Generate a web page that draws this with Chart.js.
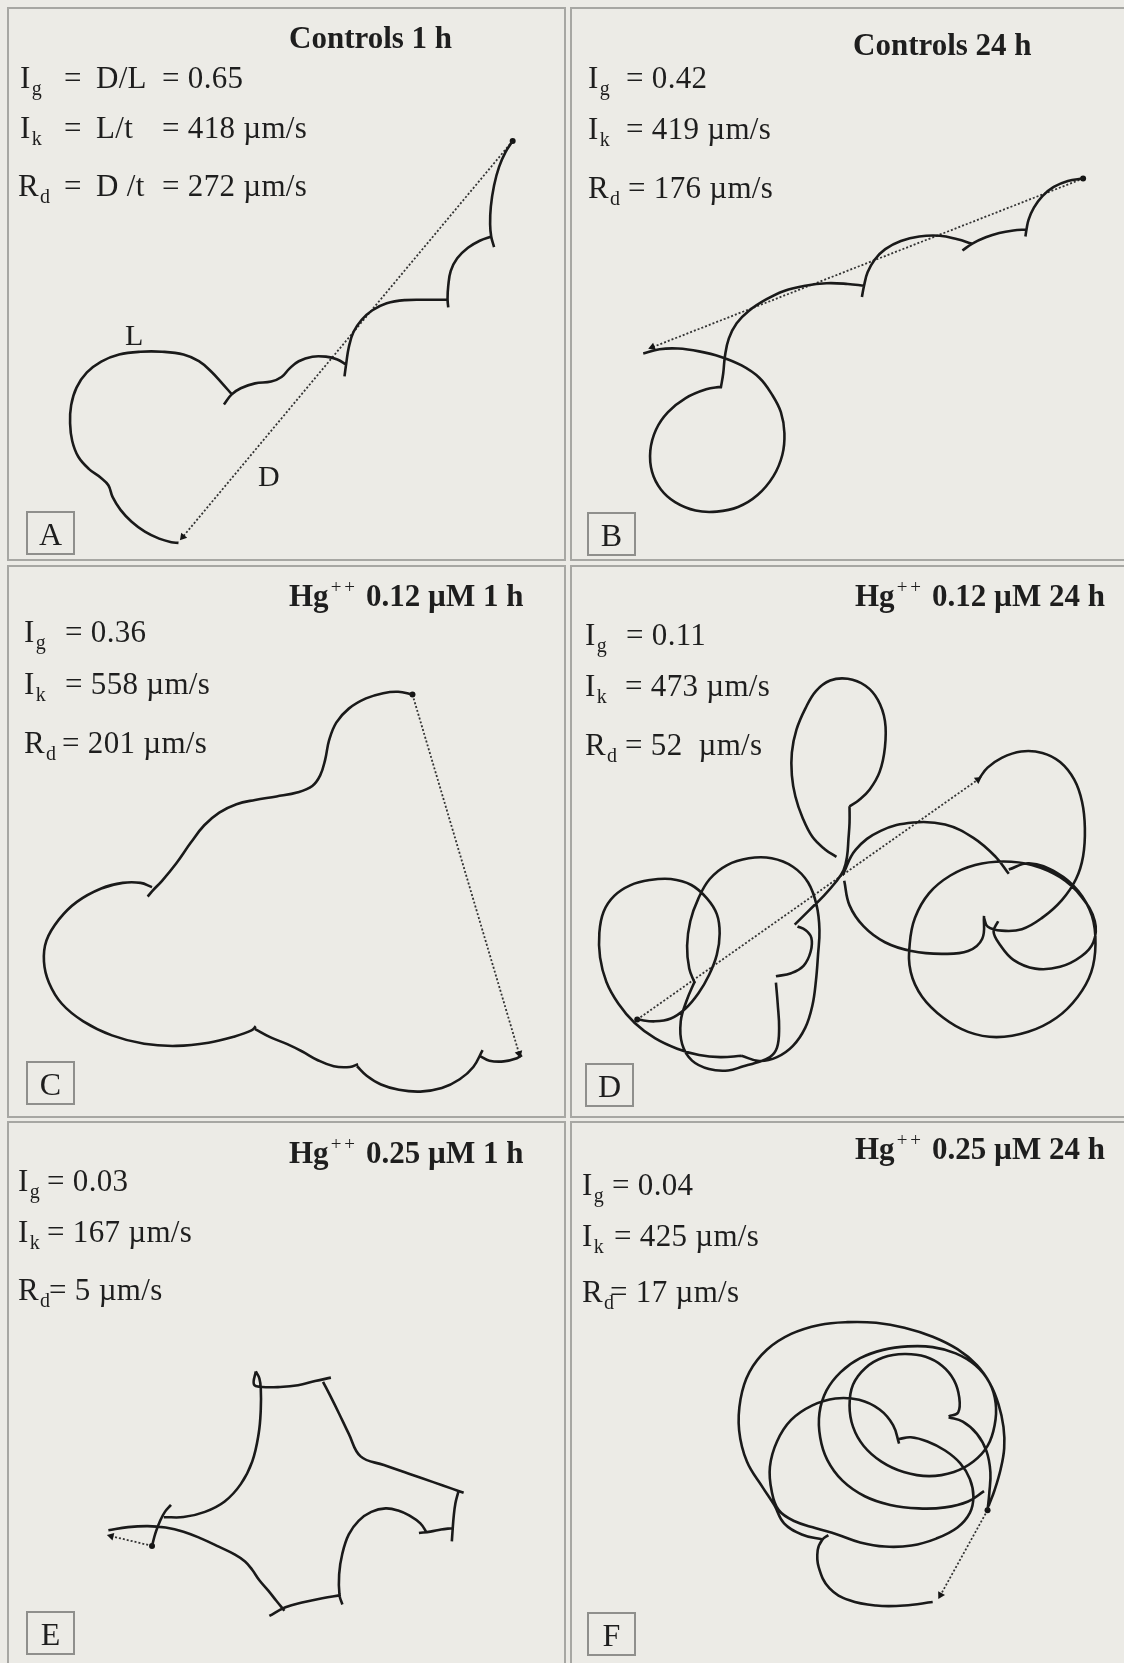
<!DOCTYPE html>
<html>
<head>
<meta charset="utf-8">
<script src="https://cdn.jsdelivr.net/npm/chart.js@4.4.1/dist/chart.umd.min.js"></script>
<style>
  body { margin: 0; width: 1124px; height: 1663px; overflow: hidden; position: relative;
         background: #ecebe6; font-family: "Liberation Serif", "Times New Roman", serif; color: #1e1e1e; }
  .panel { position: absolute; box-sizing: border-box; border: 2px solid #a7a7a3; }
  .plot { position: absolute; }
  .txt { position: absolute; white-space: nowrap; line-height: 1; }
  .stat { letter-spacing: 0.3px; }
  .title { font-weight: bold; }
  .sb { font-size: 20px; position: relative; top: 7px; margin-left: 1px; }
  .sp { font-size: 19px; font-weight: normal; position: relative; top: -13px; margin: 0 8px 0 2px; letter-spacing: 3px; }
  .tag { position: absolute; box-sizing: border-box; width: 49px; height: 44px; border: 2px solid #8f8f8c;
         font-size: 32px; text-align: center; line-height: 42px; }
</style>
</head>
<body>
<script>
// ---- data -------------------------------------------------------------
const panelIds = ['A', 'B', 'C', 'D', 'E', 'F']
const titles = ['Controls 1 h', 'Controls 24 h',
  'Hg<span class="sp">++</span>0.12 µM 1 h', 'Hg<span class="sp">++</span>0.12 µM 24 h',
  'Hg<span class="sp">++</span>0.25 µM 1 h', 'Hg<span class="sp">++</span>0.25 µM 24 h']
const gravIndex = [0.65, 0.42, 0.36, 0.11, 0.03, 0.04]   // I_g = D/L
const swimSpeed = [418, 419, 558, 473, 167, 425]         // I_k = L/t, µm/s
const netSpeed = [272, 176, 201, 52, 5, 17]              // R_d = D/t, µm/s

// tracks: list of smooth strokes, a new stroke starts at every cusp (tracker units)
const trackA = [
  [[1420,388],[1400,420],[1382,462],[1368,515],[1359,575],[1357,625],[1360,660],[1368,690]],
  [[1360,660],[1328,672],[1295,692],[1265,722],[1247,758],[1240,800],[1238,838],[1240,862]],
  [[1238,840],[1180,840],[1120,841],[1068,850],[1028,870],[998,897],[975,932],[962,975],[955,1020],[950,1058]],
  [[955,1025],[930,1010],[898,1002],[860,1002],[822,1015],[796,1036],[774,1060],[745,1073],[700,1078],[660,1092],[634,1110],[613,1138]],
  [[634,1108],[608,1078],[578,1045],[543,1015],[500,996],[440,988],[380,988],[320,996],[270,1016],[230,1047],[201,1090],[186,1140],[183,1192],[189,1242],[206,1287],[236,1322],[268,1346],[290,1368],[302,1402],[324,1438],[355,1472],[392,1500],[432,1520],[466,1530],[486,1532]]
]
const trackB = [
  [[1465,495],[1422,502],[1382,519],[1350,545],[1326,578],[1311,612],[1305,640],[1302,660]],
  [[1305,640],[1268,643],[1228,650],[1190,662],[1152,680],[1124,700]],
  [[1150,680],[1110,668],[1060,658],[1002,660],[950,673],[906,696],[876,726],[856,762],[846,800],[840,832]],
  [[847,800],[800,795],[740,793],[680,800],[620,815],[568,840],[520,872],[486,907],[464,950],[453,1000],[448,1050],[441,1092]],
  [[441,1088],[400,1095],[342,1120],[292,1160],[258,1210],[242,1270],[247,1330],[272,1380],[312,1416],[370,1440],[430,1443],[490,1430],[545,1396],[590,1342],[615,1282],[621,1220],[611,1160],[586,1110],[550,1062],[500,1027],[440,1002],[380,987],[320,979],[268,981],[222,993]]
]
const trackC = [
  [[1140,370],[1100,362],[1058,366],[1010,381],[962,410],[927,450],[907,500],[896,555],[882,600],[860,630],[820,648],[760,660],[700,670],[648,682],[600,706],[558,742],[520,792],[480,850],[440,900],[412,930],[400,945]],
  [[412,918],[380,906],[330,906],[270,922],[202,960],[152,1010],[117,1070],[110,1130],[124,1190],[160,1250],[220,1300],[300,1340],[390,1364],[480,1370],[570,1361],[640,1344],[690,1326],[702,1314]],
  [[700,1322],[742,1345],[790,1365],[832,1386],[874,1410],[920,1428],[965,1430],[988,1422]],
  [[985,1428],[1012,1455],[1052,1480],[1102,1495],[1162,1500],[1222,1490],[1272,1465],[1310,1430],[1336,1382]],
  [[1330,1400],[1355,1412],[1395,1414],[1432,1405],[1446,1396]]
]
const trackD = [
  [[205,1295],[255,1300],[300,1292],[340,1265],[378,1220],[408,1168],[430,1110],[438,1050],[430,995],[402,950],[358,912],[300,895],[240,898],[185,913],[140,943],[110,988],[98,1048],[100,1118],[118,1188],[152,1250],[198,1305],[255,1348],[318,1378],[380,1396],[440,1402],[500,1398]],
  [[500,1398],[550,1413],[600,1402],[645,1370],[680,1318],[700,1255],[710,1185],[716,1110],[720,1040],[712,970],[688,905],[645,860],[585,836],[520,836],[458,856],[410,895],[378,950],[355,1015],[346,1085],[352,1150],[368,1192]],
  [[368,1185],[345,1240],[328,1300],[332,1365],[360,1412],[408,1436],[462,1440],[505,1428],[540,1418],[580,1402],[600,1375],[606,1320],[602,1250],[597,1190]],
  [[597,1172],[640,1163],[675,1142],[695,1102],[697,1062],[680,1040],[658,1030]],
  [[650,1025],[690,985],[730,945],[765,905],[788,870],[798,830],[802,780],[805,735],[805,688]],
  [[805,688],[832,670],[862,640],[890,590],[905,520],[905,445],[885,385],[850,345],[800,325],[750,330],[710,360],[680,410],[655,470],[642,535],[642,600],[652,660],[672,720],[700,775],[735,810],[768,832]],
  [[785,885],[822,812],[893,758],[985,734],[1075,740],[1155,778],[1218,832],[1255,880]],
  [[1255,868],[1312,850],[1392,878],[1452,930],[1490,1000],[1500,1080],[1488,1160],[1450,1230],[1390,1290],[1310,1330],[1220,1345],[1140,1330],[1070,1290],[1010,1230],[978,1160],[975,1080],[990,1005],[1030,935],[1090,885],[1160,855],[1240,845],[1320,855],[1400,890],[1460,945],[1498,1015],[1494,1075],[1460,1115],[1400,1145],[1330,1150],[1268,1125],[1230,1082],[1212,1045],[1225,1015]],
  [[790,900],[805,970],[845,1030],[905,1075],[980,1100],[1065,1108],[1140,1100],[1180,1065],[1185,1000]],
  [[1185,1005],[1195,1030],[1235,1042],[1292,1038],[1350,1005],[1405,955],[1445,895],[1465,830],[1470,750],[1462,675],[1440,612],[1400,562],[1350,536],[1290,532],[1235,550],[1195,578],[1172,608]]
]
const trackE = [
  [[412,1243],[422,1205],[435,1170],[448,1145],[465,1125]],
  [[445,1160],[500,1160],[560,1145],[615,1115],[660,1065],[692,1000],[710,920],[716,850],[716,790],[712,760],[702,740]],
  [[702,740],[697,778],[720,785],[770,785],[820,780],[868,768],[912,758]],
  [[890,770],[910,810],[935,862],[962,920],[995,985],[1060,1010],[1130,1035],[1200,1060],[1250,1078],[1283,1090]],
  [[1268,1088],[1260,1120],[1255,1160],[1252,1200],[1250,1230]],
  [[1250,1192],[1220,1196],[1190,1202],[1158,1206]],
  [[1180,1205],[1162,1178],[1132,1156],[1100,1141],[1065,1135],[1025,1145],[990,1170],[962,1210],[944,1265],[935,1325],[936,1385],[944,1412]],
  [[940,1385],[888,1394],[838,1405],[785,1420],[740,1445]],
  [[782,1430],[760,1402],[737,1372],[712,1342],[692,1312],[672,1288],[640,1266],[600,1246],[550,1222],[500,1202],[450,1190],[400,1186],[345,1189],[290,1198]]
]
const trackF = [
  [[1040,1405],[960,1415],[880,1415],[805,1400],[748,1365],[718,1305],[715,1255],[728,1225],[745,1212]],
  [[730,1225],[670,1210],[620,1178],[592,1125],[560,1075],[515,1000],[493,910],[497,820],[522,742],[572,677],[640,632],[720,606],[800,598],[880,600],[960,614],[1040,640],[1110,676],[1165,722],[1202,775],[1226,835],[1240,900],[1242,962],[1232,1022],[1215,1082],[1198,1128]],
  [[945,948],[928,895],[890,850],[832,822],[765,818],[700,838],[640,880],[600,942],[580,1015],[585,1085],[605,1140],[650,1172],[710,1192],[770,1210],[835,1233],[905,1245],[980,1242],[1050,1222],[1110,1190],[1145,1148],[1155,1100],[1145,1050],[1118,1005],[1075,968],[1025,942],[978,930],[945,935]],
  [[1085,870],[1112,858],[1115,815],[1100,765],[1068,725],[1020,698],[960,690],[900,700],[850,730],[815,778],[805,838],[815,900],[845,955],[895,1000],[958,1030],[1030,1042],[1100,1030],[1155,1000],[1195,955],[1215,895],[1218,832],[1200,772],[1160,722],[1105,688],[1040,670],[970,668],[900,678],[835,702],[780,742],[740,795],[720,860],[722,930],[742,995],[785,1055],[848,1100],[920,1125],[1000,1135],[1075,1132],[1140,1115],[1185,1085]],
  [[1085,872],[1125,885],[1165,920],[1192,970],[1203,1030],[1200,1090],[1195,1140]]
]
const tracks = [trackA, trackB, trackC, trackD, trackE, trackF]

// net displacement D: first and last position of each track
const dStart = [[1420,388], [1465,495], [1140,370], [205,1295], [412,1243], [1195,1140]]
const dEnd = [[498,1515], [248,975], [1438,1392], [1168,612], [298,1215], [1062,1385]]

// ---- layout -----------------------------------------------------------
// panel boxes on the page: left, top, width, height
const boxes = [[7,7,559,554], [570,7,556,554], [7,565,559,553], [570,565,556,553], [7,1121,559,545], [570,1121,556,545]]
// part of the tracker field shown in each panel: xmin, xmax, ymin, ymax
const views = [
  [19.25,1556.5,19.6,1570.8], [27.8,1573.5,19.6,1570.8],
  [19.25,1556.5,14,1562.4], [27.8,1573.5,14,1562.4],
  [19.25,1556.5,31.2,1576.3], [27.8,1573.5,31.2,1576.3]
]
const titlePos = [[289,47.5], [853,55], [289,606], [855,606], [289,1163], [855,1159]]
const statSymX = [20, 588, 24, 585, 18, 582]
const statEqX = [[0,0,0], [626,626,628], [65,65,62], [626,625,625], [47,47,49], [612,614,610]]
const statBase = [[87.5,137.5,196], [87.5,139,198], [642,694,753], [645,696,755], [1191,1242,1300], [1195,1246,1302]]
const tagPos = [[26,511], [587,512], [26,1061], [585,1063], [26,1611], [587,1612]]
const statSize = 31

function addText(html, x, baseline, size, cls) {
  const el = document.createElement('div')
  el.className = 'txt ' + (cls || '')
  el.style.left = x + 'px'
  // Liberation Serif at line-height 1: baseline sits 0.8375em under the box top
  el.style.top = (baseline - 0.8375 * size) + 'px'
  el.style.fontSize = size + 'px'
  el.innerHTML = html
  document.body.appendChild(el)
}

function strokesToPoints(strokes) {
  const pts = []
  strokes.forEach((s, i) => {
    if (i) pts.push({ x: null, y: null })
    s.forEach(p => pts.push({ x: p[0], y: p[1] }))
  })
  return pts
}

panelIds.forEach((id, i) => {
  const [left, top, w, h] = boxes[i]
  const panel = document.createElement('div')
  panel.className = 'panel'
  Object.assign(panel.style, { left: left + 'px', top: top + 'px', width: w + 'px', height: h + 'px' })
  document.body.appendChild(panel)

  const canvas = document.createElement('canvas')
  canvas.className = 'plot'
  canvas.width = w
  canvas.height = h
  Object.assign(canvas.style, { left: left + 'px', top: top + 'px', width: w + 'px', height: h + 'px' })
  document.body.appendChild(canvas)

  const [x0, x1, y0, y1] = views[i]
  const a = dStart[i], b = dEnd[i]
  const ux = (b[0] - a[0]) * w / (x1 - x0)
  const uy = (b[1] - a[1]) * h / (y1 - y0)
  const headAngle = Math.atan2(ux, -uy) * 180 / Math.PI

  new Chart(canvas, {
    type: 'scatter',
    data: {
      datasets: [
        {
          label: 'track ' + id,
          data: strokesToPoints(tracks[i]),
          showLine: true,
          spanGaps: false,
          borderColor: '#1a1a1a',
          borderWidth: 2.6,
          tension: 0.4,
          pointRadius: 0
        },
        {
          label: 'D ' + id,
          data: [{ x: a[0], y: a[1] }, { x: b[0], y: b[1] }],
          showLine: true,
          borderColor: '#333333',
          borderWidth: 1.8,
          borderDash: [2, 2],
          pointStyle: ['circle', 'triangle'],
          pointRotation: [0, headAngle],
          pointRadius: [3, 4.5],
          pointBackgroundColor: '#151515',
          pointBorderColor: '#151515',
          pointBorderWidth: 0
        }
      ]
    },
    options: {
      responsive: false,
      animation: false,
      events: [],
      devicePixelRatio: 1,
      plugins: { legend: { display: false }, tooltip: { enabled: false } },
      scales: {
        x: { type: 'linear', display: false, min: x0, max: x1 },
        y: { type: 'linear', display: false, min: y0, max: y1, reverse: true }
      }
    }
  })

  addText(titles[i], titlePos[i][0], titlePos[i][1], 31, 'title')

  const sym = ['I<span class="sb">g</span>', 'I<span class="sb">k</span>', 'R<span class="sb">d</span>']
  const vals = ['= ' + gravIndex[i].toFixed(2),
                '= ' + swimSpeed[i] + ' µm/s',
                '= ' + netSpeed[i] + (i === 3 ? '&nbsp;&nbsp;' : ' ') + 'µm/s']
  if (i === 0) {
    const formula = ['D/L', 'L/t', 'D /t']
    for (let k = 0; k < 3; k++) {
      addText(sym[k], k === 2 ? 18 : 20, statBase[0][k], statSize, 'stat')
      addText('=', 64, statBase[0][k], statSize, 'stat')
      addText(formula[k], 96, statBase[0][k], statSize, 'stat')
      addText(vals[k], 162, statBase[0][k], statSize, 'stat')
    }
  } else {
    for (let k = 0; k < 3; k++) {
      addText(sym[k], statSymX[i], statBase[i][k], statSize, 'stat')
      addText(vals[k], statEqX[i][k], statBase[i][k], statSize, 'stat')
    }
  }

  const tag = document.createElement('div')
  tag.className = 'tag'
  tag.style.left = tagPos[i][0] + 'px'
  tag.style.top = tagPos[i][1] + 'px'
  tag.textContent = id
  document.body.appendChild(tag)
})

// path labels of panel A
addText('L', 125, 345, 30)
addText('D', 258, 486, 30)
</script>
</body>
</html>
